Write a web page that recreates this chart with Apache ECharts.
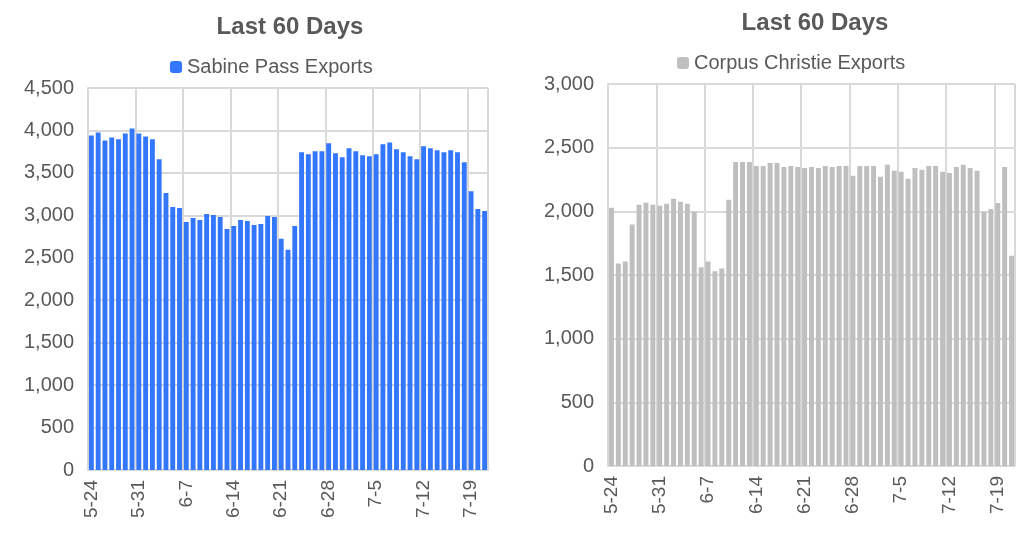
<!DOCTYPE html>
<html><head><meta charset="utf-8">
<script src="https://cdn.jsdelivr.net/npm/echarts@6/dist/echarts.min.js"></script>
<style>body{margin:0}#c{width:1031px;height:550px}</style></head>
<body><div id="c"></div>
<script>
const categories = (function(){const o=[];const d=new Date(2021,4,24);for(let i=0;i<59;i++){o.push((d.getMonth()+1)+'-'+d.getDate());d.setDate(d.getDate()+1);}return o;})();
const sabine = [3941,3977,3883,3918,3895,3965,4023,3965,3930,3895,3660,3262,3098,3086,2922,2969,2945,3016,3004,2980,2840,2875,2945,2934,2887,2898,2992,2980,2723,2594,2875,3742,3719,3754,3754,3848,3730,3684,3789,3754,3707,3695,3719,3836,3859,3777,3742,3695,3660,3813,3789,3766,3742,3766,3742,3625,3285,3074,3051];
const corpus = [2029,1591,1607,1896,2052,2068,2052,2044,2060,2099,2076,2060,1997,1560,1607,1529,1552,2091,2388,2388,2388,2357,2357,2380,2380,2349,2357,2349,2341,2349,2341,2357,2349,2357,2357,2279,2357,2357,2357,2271,2365,2318,2310,2255,2341,2326,2357,2357,2310,2302,2349,2365,2341,2318,1997,2018,2065,2349,1651];
const txt='#595959', grid='#D9D9D9';
function xAxis(i){return {type:'category',gridIndex:i,data:categories,axisLine:{lineStyle:{color:grid,width:2}},axisTick:{show:false},
 axisLabel:{interval:6,rotate:90,color:txt,fontSize:19,fontFamily:'Liberation Sans, Arial',margin:10},
 splitLine:{show:true,interval:6,lineStyle:{color:grid,width:2}}};}
function yAxis(i,max,iv){return {type:'value',gridIndex:i,min:0,max:max,interval:iv,axisLine:{show:true,lineStyle:{color:grid,width:2}},
 axisLabel:{color:txt,fontSize:20,fontFamily:'Liberation Sans, Arial',margin:14},splitLine:{lineStyle:{color:grid,width:2}}};}
const chart=echarts.init(document.getElementById('c'));
chart.setOption({animation:false,
 title:[{text:'Last 60 Days',left:285,top:10,textAlign:'center',textStyle:{fontSize:24,fontWeight:'bold',color:txt,fontFamily:'Liberation Sans, Arial'}},
        {text:'Last 60 Days',left:810,top:6,textAlign:'center',textStyle:{fontSize:24,fontWeight:'bold',color:txt,fontFamily:'Liberation Sans, Arial'}}],
 legend:[{data:['Sabine Pass Exports'],left:165,top:52,itemWidth:12,itemHeight:12,itemGap:6,textStyle:{fontSize:20,color:txt,fontFamily:'Liberation Sans, Arial'}},
         {data:['Corpus Christie Exports'],left:672,top:48,itemWidth:12,itemHeight:12,itemGap:6,textStyle:{fontSize:20,color:txt,fontFamily:'Liberation Sans, Arial'}}],
 grid:[{left:88,right:543,top:88,bottom:80},{left:608,right:16,top:84,bottom:84}],
 xAxis:[xAxis(0),xAxis(1)],
 yAxis:[yAxis(0,4500,500),yAxis(1,3000,500)],
 series:[{name:'Sabine Pass Exports',type:'bar',xAxisIndex:0,yAxisIndex:0,data:sabine,itemStyle:{color:'#3377FF'},barCategoryGap:'28%'},
         {name:'Corpus Christie Exports',type:'bar',xAxisIndex:1,yAxisIndex:1,data:corpus,itemStyle:{color:'#BFBFBF'},barCategoryGap:'28%'}]
});
</script></body></html>
